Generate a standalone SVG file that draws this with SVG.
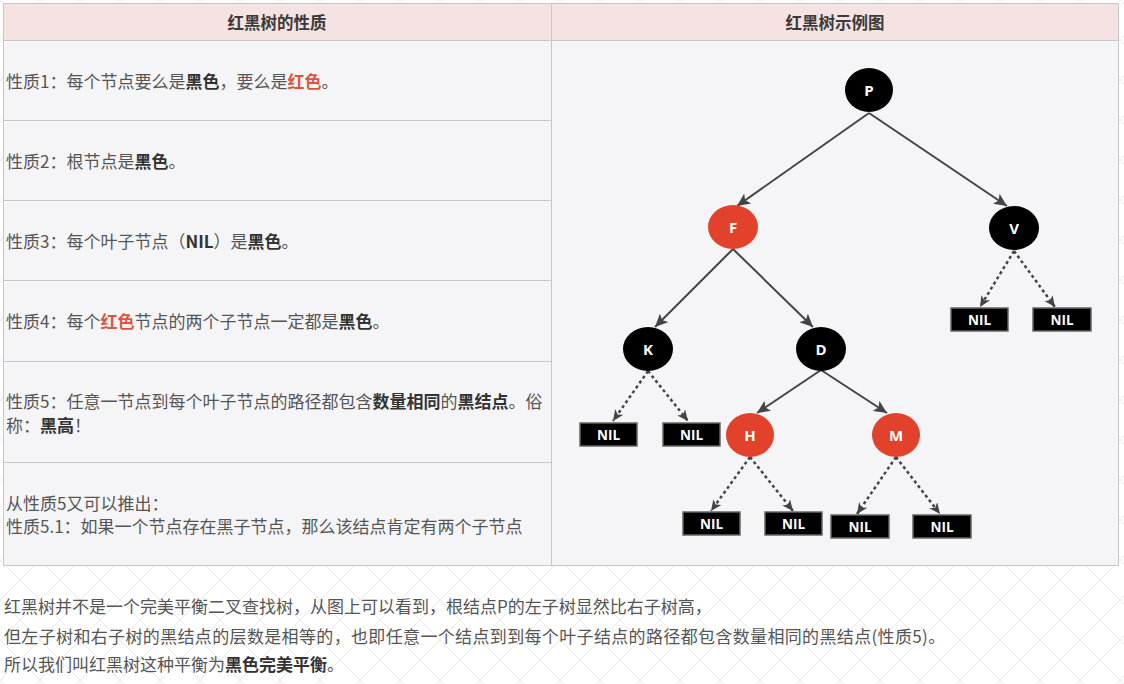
<svg xmlns="http://www.w3.org/2000/svg" width="1124" height="684" viewBox="0 0 1124 684">
<style>
.t{font-family:"Noto Sans CJK SC","Noto Sans",sans-serif;font-size:17px;fill:#555555}
.b{font-weight:bold;fill:#333333}
.r{font-weight:bold;fill:#dc5542}
.h{font-family:"Noto Sans CJK SC","Noto Sans",sans-serif;font-size:16.5px;font-weight:bold;fill:#3a3a3a;text-anchor:middle}
.bt{font-family:"Noto Sans CJK SC","Noto Sans",sans-serif;font-size:17px;fill:#555555}
.cell{fill:#f5f5f7;stroke:#c8c8c8;stroke-width:1}
.head{fill:#f5e2e2;stroke:#c8c8c8;stroke-width:1}
.blk{fill:#000000}
.red{fill:#e2412b}
.nl{font-family:"Open Sans","Liberation Sans",sans-serif;font-weight:bold;font-size:15px;fill:#ffffff;text-anchor:middle}
.nil{fill:#000000;stroke:#666666;stroke-width:1.5}
.nilt{font-family:"Open Sans","Liberation Sans",sans-serif;font-weight:bold;font-size:13.5px;fill:#ffffff;text-anchor:middle}
.sol{stroke:#444444;stroke-width:2;fill:none;marker-end:url(#ah)}
.dash{stroke:#444444;stroke-width:2.5;fill:none;stroke-dasharray:3 3;marker-end:url(#ahd)}
</style>
<defs>
<pattern id="bg" width="40" height="40" patternUnits="userSpaceOnUse">
<path d="M0,0 L40,40 M40,0 L0,40" stroke="#eeeaeb" stroke-width="1" fill="none"/>
</pattern>
<marker id="ah" markerUnits="userSpaceOnUse" markerWidth="14" markerHeight="12" refX="13" refY="6" orient="auto">
<path d="M0,0 L13,6 L0,12 L3,6 z" fill="#444444"/>
</marker>
<marker id="ahd" markerUnits="userSpaceOnUse" markerWidth="12" markerHeight="12" refX="11" refY="5" orient="auto">
<path d="M0,0 L11,5 L0,10 L3,5 z" fill="#444444"/>
</marker>
</defs>
<rect x="0" y="0" width="1124" height="684" fill="#ffffff"/>
<rect x="0" y="0" width="1124" height="684" fill="url(#bg)"/>

<g id="table">
<rect class="head" x="3.5" y="3.5" width="548" height="37"/>
<rect class="head" x="551.5" y="3.5" width="567" height="37"/>
<rect class="cell" x="3.5" y="40.5" width="548" height="80"/>
<rect class="cell" x="3.5" y="120.5" width="548" height="80"/>
<rect class="cell" x="3.5" y="200.5" width="548" height="80"/>
<rect class="cell" x="3.5" y="280.5" width="548" height="81"/>
<rect class="cell" x="3.5" y="361.5" width="548" height="101"/>
<rect class="cell" x="3.5" y="462.5" width="548" height="103"/>
<rect class="cell" x="551.5" y="40.5" width="567" height="525"/>
<text class="h" x="277" y="29">红黑树的性质</text>
<text class="h" x="835" y="29">红黑树示例图</text>
<text class="t" x="6" y="88">性质1：每个节点要么是<tspan class="b">黑色</tspan>，要么是<tspan class="r">红色</tspan>。</text>
<text class="t" x="6" y="168">性质2：根节点是<tspan class="b">黑色</tspan>。</text>
<text class="t" x="6" y="248">性质3：每个叶子节点（<tspan class="b">NIL</tspan>）是<tspan class="b">黑色</tspan>。</text>
<text class="t" x="6" y="328">性质4：每个<tspan class="r">红色</tspan>节点的两个子节点一定都是<tspan class="b">黑色</tspan>。</text>
<text class="t" x="6" y="408">性质5：任意一节点到每个叶子节点的路径都包含<tspan class="b">数量相同</tspan>的<tspan class="b">黑结点</tspan>。俗</text>
<text class="t" x="6" y="432">称：<tspan class="b">黑高</tspan>！</text>
<text class="t" x="6" y="510">从性质5又可以推出：</text>
<text class="t" x="6" y="533">性质5.1：如果一个节点存在黑子节点，那么该结点肯定有两个子节点</text>
</g>

<g id="connectors">
<line class="sol" x1="869" y1="113" x2="737" y2="206"/>
<line class="sol" x1="869" y1="113" x2="1007" y2="206"/>
<line class="sol" x1="733" y1="249" x2="655" y2="327"/>
<line class="sol" x1="733" y1="249" x2="813" y2="327"/>
<line class="sol" x1="821" y1="370" x2="757" y2="413"/>
<line class="sol" x1="821" y1="370" x2="887" y2="413"/>
<line class="dash" x1="648" y1="371" x2="613" y2="421"/>
<line class="dash" x1="648" y1="371" x2="688" y2="421"/>
<line class="dash" x1="1014" y1="251" x2="980" y2="307"/>
<line class="dash" x1="1014" y1="251" x2="1055" y2="307"/>
<line class="dash" x1="750" y1="457" x2="711" y2="511"/>
<line class="dash" x1="750" y1="457" x2="793" y2="511"/>
<line class="dash" x1="896" y1="457" x2="857" y2="514"/>
<line class="dash" x1="896" y1="457" x2="940" y2="514"/>
</g>

<g id="node-P"><ellipse class="blk" cx="869" cy="90" rx="24" ry="22"/><text class="nl" x="869" y="95.5">P</text></g>
<g id="node-F"><ellipse class="red" cx="733" cy="227" rx="25" ry="22"/><text class="nl" x="733" y="232.5">F</text></g>
<g id="node-V"><ellipse class="blk" cx="1014" cy="228" rx="25" ry="22"/><text class="nl" x="1014" y="233.5">V</text></g>
<g id="node-K"><ellipse class="blk" cx="648" cy="349" rx="25" ry="22"/><text class="nl" x="648" y="354.5">K</text></g>
<g id="node-D"><ellipse class="blk" cx="821" cy="349" rx="25" ry="22"/><text class="nl" x="821" y="354.5">D</text></g>
<g id="node-H"><ellipse class="red" cx="750" cy="435" rx="24" ry="22"/><text class="nl" x="750" y="440.5">H</text></g>
<g id="node-M"><ellipse class="red" cx="896" cy="435" rx="24" ry="22"/><text class="nl" x="896" y="440.5">M</text></g>

<g id="nil-K1"><rect class="nil" x="580" y="423" width="57" height="23"/><text class="nilt" x="608.5" y="439.5">NIL</text></g>
<g id="nil-K2"><rect class="nil" x="663" y="423" width="57" height="23"/><text class="nilt" x="691.5" y="439.5">NIL</text></g>
<g id="nil-V1"><rect class="nil" x="951" y="308" width="57" height="23"/><text class="nilt" x="979.5" y="324.5">NIL</text></g>
<g id="nil-V2"><rect class="nil" x="1033" y="308" width="58" height="23"/><text class="nilt" x="1062" y="324.5">NIL</text></g>
<g id="nil-H1"><rect class="nil" x="683" y="512" width="57" height="23"/><text class="nilt" x="711.5" y="528.5">NIL</text></g>
<g id="nil-H2"><rect class="nil" x="765" y="512" width="57" height="23"/><text class="nilt" x="793.5" y="528.5">NIL</text></g>
<g id="nil-M1"><rect class="nil" x="831" y="515" width="58" height="23"/><text class="nilt" x="860" y="531.5">NIL</text></g>
<g id="nil-M2"><rect class="nil" x="913" y="515" width="58" height="23"/><text class="nilt" x="942" y="531.5">NIL</text></g>

<g id="caption">
<text class="bt" x="4" y="613">红黑树并不是一个完美平衡二叉查找树，从图上可以看到，根结点P的左子树显然比右子树高，</text>
<text class="bt" x="4" y="643" letter-spacing="0.35">但左子树和右子树的黑结点的层数是相等的，也即任意一个结点到到每个叶子结点的路径都包含数量相同的黑结点(性质5)。</text>
<text class="bt" x="4" y="671">所以我们叫红黑树这种平衡为<tspan class="b">黑色完美平衡</tspan>。</text>
</g>
</svg>
